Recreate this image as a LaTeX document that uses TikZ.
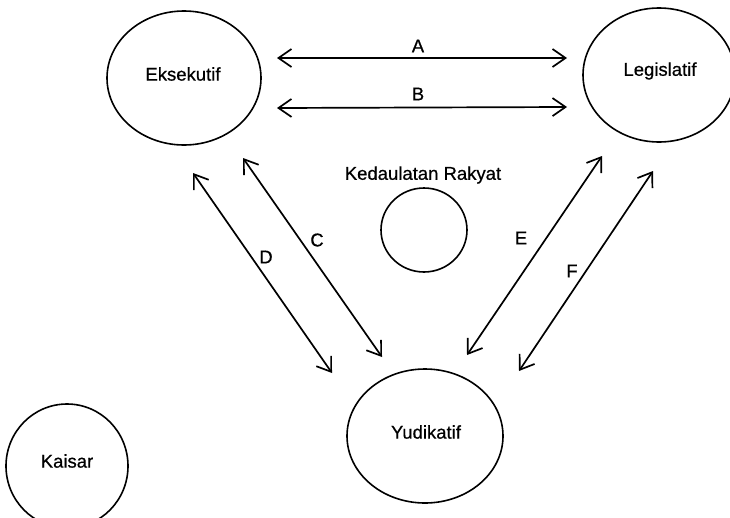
\documentclass[tikz,border=0pt]{standalone}
\usepackage{fontspec}
\setmainfont{Liberation Sans}[FakeBold=0.6]
\usetikzlibrary{shapes.geometric,arrows.meta}
\begin{document}
\begin{tikzpicture}[x=1pt,y=-1pt,
  org/.style={draw,ellipse,line width=1.6pt,inner sep=0pt},
  lbl/.style={font=\fontsize{18.5}{22}\selectfont,inner sep=0pt},
  barb/.tip={Straight Barb[length=13pt,width=18pt,line width=1.7pt]},
  rel/.style={line width=1.7pt,barb-barb}]
\useasboundingbox (0,0) rectangle (730,517);
% bodies
\node[org,minimum width=154pt,minimum height=134pt] (eks) at (184,78) {};
\node[org,minimum width=152pt,minimum height=134pt] (leg) at (659,75) {};
\node[org,minimum width=156pt,minimum height=134pt] (yud) at (425,436) {};
\node[org,minimum width=122pt,minimum height=124pt] (kai) at (67,466) {};
\node[org,minimum width=86pt,minimum height=84pt] (ked) at (424,230) {};
% names
\node[lbl] (eksT) at (183,74) {Eksekutif};
\node[lbl] (legT) at (660,71) {Legislatif};
\node[lbl] (yudT) at (426,432) {Yudikatif};
\node[lbl] (kaiT) at (67,461) {Kaisar};
\node[lbl] (kedT) at (423,175) {Kedaulatan Rakyat};
% arrow ends
\coordinate (a1) at (277,58);  \coordinate (a2) at (567,58);
\coordinate (b1) at (277,108); \coordinate (b2) at (567,107);
\coordinate (c1) at (243,158); \coordinate (c2) at (382,357);
\coordinate (d1) at (193,173); \coordinate (d2) at (332,373);
\coordinate (e1) at (602,156); \coordinate (e2) at (467,355);
\coordinate (f1) at (653,171); \coordinate (f2) at (519,371);
\draw[rel] (a1) -- (a2);
\draw[rel] (b1) -- (b2);
\draw[rel] (c1) -- (c2);
\draw[rel] (d1) -- (d2);
\draw[rel] (e1) -- (e2);
\draw[rel] (f1) -- (f2);
% letters
\node[lbl] (lA) at (418,46) {A};
\node[lbl] (lB) at (418,94) {B};
\node[lbl] (lC) at (317,240) {C};
\node[lbl] (lD) at (266,257) {D};
\node[lbl] (lE) at (521,238) {E};
\node[lbl] (lF) at (572,271) {F};
\end{tikzpicture}
\end{document}
